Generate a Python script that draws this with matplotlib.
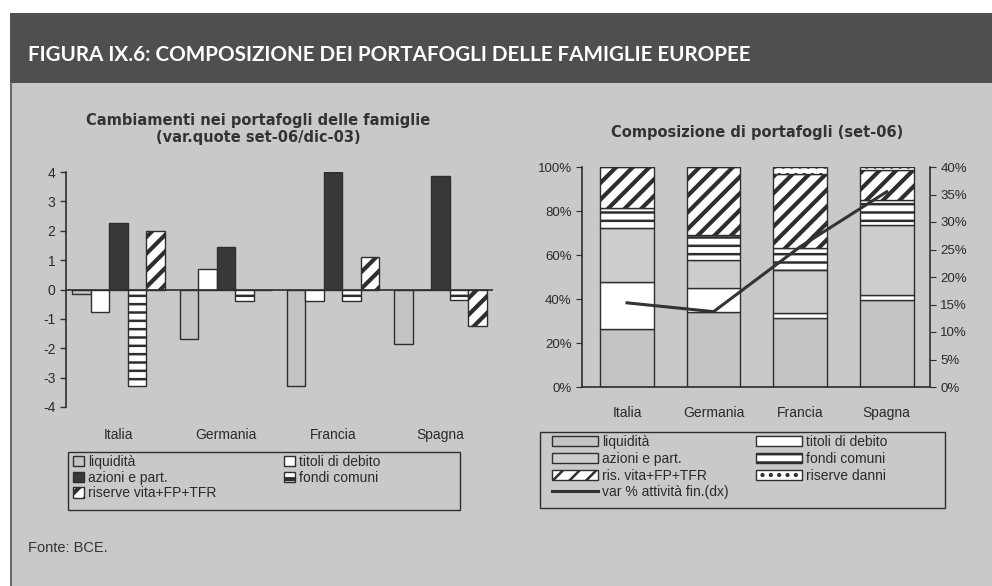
import numpy as np
import matplotlib
matplotlib.use("Agg")
import matplotlib.pyplot as plt
from matplotlib.patches import Rectangle
from matplotlib.lines import Line2D

plt.rcParams['font.family'] = ['Liberation Sans', 'DejaVu Sans']
plt.rcParams['axes.unicode_minus'] = False
plt.rcParams['hatch.linewidth'] = 1.8
plt.rcParams['hatch.color'] = '#2e2e2e'

paesi = ["Italia", "Germania", "Francia", "Spagna"]

# variazione quote set-06 / dic-03 (punti percentuali)
liquidita_var = [-0.15, -1.7, -3.3, -1.85]
titoli_var = [-0.75, 0.7, -0.4, 0.0]
azioni_var = [2.25, 1.45, 4.0, 3.85]
fondi_var = [-3.3, -0.4, -0.4, -0.35]
riserve_var = [2.0, 0.0, 1.1, -1.25]

# composizione set-06 (%)
liquidita = [26.3, 34.3, 31.3, 39.6]
titoli = [21.6, 10.6, 2.3, 2.3]
azioni = [24.2, 12.8, 19.6, 31.7]
fondi = [9.1, 11.3, 9.8, 11.3]
ris_vita = [18.8, 31.0, 34.0, 13.6]
ris_danni = [0.0, 0.0, 3.0, 1.5]
var_attivita = [15.3, 13.7, 25.5, 35.5]

W, H = 992, 586
fig = plt.figure(figsize=(W / 100, H / 100), dpi=100)
fig.patch.set_facecolor('white')

def fx(px):
    return px / W

def fy(py):
    return 1 - py / H

def box(x0, y0, x1, y1):
    fig.add_artist(Rectangle((fx(x0), fy(y1)), fx(x1 - x0), (y1 - y0) / H, transform=fig.transFigure,
                             facecolor='none', edgecolor='#2e2e2e', lw=1.0, zorder=3))

# sfondo e barra del titolo
fig.add_artist(Rectangle((fx(10), 0), 1 - fx(10), fy(83), transform=fig.transFigure,
                         facecolor='#c9c9c9', edgecolor='none', zorder=0))
fig.add_artist(Rectangle((fx(10), fy(83)), 1 - fx(10), fy(13) - fy(83), transform=fig.transFigure,
                         facecolor='#4f4f4f', edgecolor='none', zorder=0))
fig.add_artist(Line2D([fx(10.5), fx(10.5)], [0, fy(83)], transform=fig.transFigure,
                      color='#6a6a6a', lw=1.5))
fig.text(fx(28), fy(55), "FIGURA IX.6: COMPOSIZIONE DEI PORTAFOGLI DELLE FAMIGLIE EUROPEE",
         color='white', fontsize=14.9, fontweight='bold', family='Lato', va='center', ha='left')
fig.text(fx(28), fy(548), "Fonte: BCE.", color='#333333', fontsize=10.5, va='center')

txt = '#2a2a2a'
gray = '#c4c4c4'
thin_hatch = 1.8
thick_hatch = 3.0

# ---- grafico di sinistra ----
ax1 = fig.add_axes([fx(66), fy(407), fx(427), 235 / H])
ax1.patch.set_visible(False)
x = np.arange(len(paesi))
bw = 0.172
serie1 = [
    (liquidita_var, dict(facecolor=gray), "liquidità"),
    (titoli_var, dict(facecolor='white'), "titoli di debito"),
    (azioni_var, dict(facecolor='#383838'), "azioni e part."),
    (fondi_var, dict(facecolor='white', hatch='--'), "fondi comuni"),
    (riserve_var, dict(facecolor='white', hatch='//'), "riserve vita+FP+TFR"),
]
handles1 = []
for i, (vals, st, lab) in enumerate(serie1):
    plt.rcParams['hatch.linewidth'] = thick_hatch if st.get('hatch') == '//' else thin_hatch
    b = ax1.bar(x + (i - 2) * bw, vals, bw, edgecolor='#2e2e2e', linewidth=1.0, label=lab, **st)
    handles1.append(b)
ax1.axhline(0, color='#2e2e2e', lw=1.2)
ax1.set_ylim(-4, 4)
ax1.set_xlim(-0.49, 3.49)
ax1.set_yticks(range(-4, 5))
ax1.set_xticks(x)
ax1.set_xticklabels(paesi)
ax1.tick_params(axis='x', length=0, pad=15, labelsize=10, labelcolor=txt)
ax1.tick_params(axis='y', length=4, width=1, color='#2e2e2e', labelsize=10, labelcolor=txt)
for s in ['top', 'right', 'bottom']:
    ax1.spines[s].set_visible(False)
ax1.spines['left'].set_color('#2e2e2e')
ax1.spines['left'].set_linewidth(1.2)
fig.text(fx(258), fy(129), "Cambiamenti nei portafogli delle famiglie\n(var.quote set-06/dic-03)",
         ha='center', va='center', fontsize=10.5, fontweight='bold', family='DejaVu Sans',
         color='#333333', linespacing=1.1)

leg_kw1 = dict(loc='upper left', fontsize=10, frameon=False, handlelength=0.8, handleheight=0.8,
               handletextpad=0.3, labelspacing=0.12, borderpad=0, borderaxespad=0)
la = fig.legend([handles1[i] for i in [0, 2, 4]], [serie1[i][2] for i in [0, 2, 4]],
                bbox_to_anchor=(fx(73), fy(455)), **leg_kw1)
lb = fig.legend([handles1[i] for i in [1, 3]], [serie1[i][2] for i in [1, 3]],
                bbox_to_anchor=(fx(284), fy(455)), **leg_kw1)
for lg in (la, lb):
    for t in lg.get_texts():
        t.set_color(txt)
box(68, 452, 460, 510)

# ---- grafico di destra ----
ax2 = fig.add_axes([fx(582), fy(387), fx(348), 220 / H])
ax2.patch.set_visible(False)
bw2 = 0.62
serie2 = [
    (liquidita, dict(facecolor=gray), "liquidità"),
    (titoli, dict(facecolor='white'), "titoli di debito"),
    (azioni, dict(facecolor='#cdcdcd'), "azioni e part."),
    (fondi, dict(facecolor='white', hatch='--'), "fondi comuni"),
    (ris_vita, dict(facecolor='white', hatch='//'), "ris. vita+FP+TFR"),
    (ris_danni, dict(facecolor='white', hatch='..'), "riserve danni"),
]
handles2 = []
base = np.zeros(len(paesi))
for vals, st, lab in serie2:
    plt.rcParams['hatch.linewidth'] = thick_hatch if st.get('hatch') == '//' else thin_hatch
    b = ax2.bar(x, vals, bw2, bottom=base, edgecolor='#2e2e2e', linewidth=1.0, label=lab, **st)
    handles2.append(b)
    base = base + np.array(vals)
plt.rcParams['hatch.linewidth'] = thin_hatch
ax2.set_ylim(0, 100)
ax2.set_xlim(-0.52, 3.5)
ax2.set_yticks(range(0, 101, 20))
ax2.set_yticklabels([f"{v}%" for v in range(0, 101, 20)])
ax2.set_xticks(x)
ax2.set_xticklabels(paesi)
ax2.tick_params(axis='x', length=0, pad=14, labelsize=10, labelcolor=txt)
ax2.tick_params(axis='y', length=4, color='#2e2e2e', labelsize=9.5, labelcolor=txt)
ax2.spines['top'].set_visible(False)
ax2.spines['right'].set_visible(False)
for s in ['left', 'bottom']:
    ax2.spines[s].set_color('#2e2e2e')
    ax2.spines[s].set_linewidth(1.2)

ax3 = ax2.twinx()
ln, = ax3.plot(x, var_attivita, color='#333333', lw=2.2, label="var % attività fin.(dx)", zorder=5)
ax3.set_ylim(0, 40)
ax3.set_yticks(range(0, 41, 5))
ax3.set_yticklabels([f"{v}%" for v in range(0, 41, 5)])
ax3.tick_params(axis='y', length=4, color='#2e2e2e', labelsize=9.5, labelcolor=txt)
ax3.spines['top'].set_visible(False)
ax3.spines['left'].set_visible(False)
ax3.spines['bottom'].set_visible(False)
ax3.spines['right'].set_color('#2e2e2e')
ax3.spines['right'].set_linewidth(1.2)
fig.text(fx(757), fy(132), "Composizione di portafogli (set-06)", ha='center', va='center',
         fontsize=10.5, fontweight='bold', family='DejaVu Sans', color='#333333')

leg_kw2 = dict(loc='upper left', fontsize=10, frameon=False, handlelength=3.3, handleheight=0.75,
               handletextpad=0.3, labelspacing=0.2, borderpad=0, borderaxespad=0)
lc = fig.legend([handles2[0], handles2[2], handles2[4], ln],
                ["liquidità", "azioni e part.", "ris. vita+FP+TFR", "var % attività fin.(dx)"],
                bbox_to_anchor=(fx(552), fy(435)), **leg_kw2)
ld = fig.legend([handles2[1], handles2[3], handles2[5]],
                ["titoli di debito", "fondi comuni", "riserve danni"],
                bbox_to_anchor=(fx(756), fy(435)), **leg_kw2)
for lg in (lc, ld):
    for t in lg.get_texts():
        t.set_color(txt)
box(540, 432, 945, 508)

fig.savefig("out.png", dpi=100)
